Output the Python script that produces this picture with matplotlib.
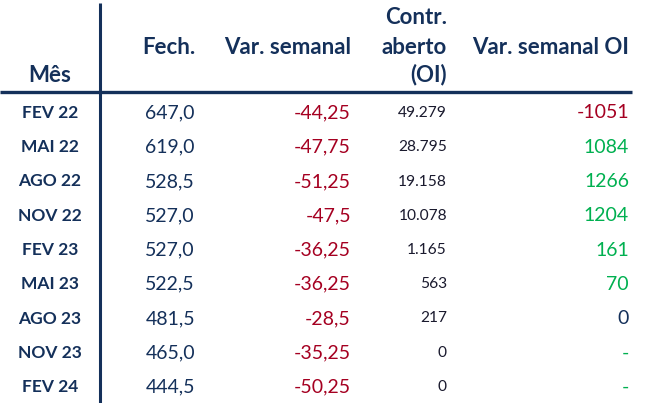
import matplotlib
matplotlib.use('Agg')
from matplotlib import pyplot as plt

meses = ['FEV 22', 'MAI 22', 'AGO 22', 'NOV 22', 'FEV 23', 'MAI 23', 'AGO 23', 'NOV 23', 'FEV 24']
fech = ['647,0', '619,0', '528,5', '527,0', '527,0', '522,5', '481,5', '465,0', '444,5']
var_semanal = ['-44,25', '-47,75', '-51,25', '-47,5', '-36,25', '-36,25', '-28,5', '-35,25', '-50,25']
contr_aberto = ['49.279', '28.795', '19.158', '10.078', '1.165', '563', '217', '0', '0']
var_oi = ['-1051', '1084', '1266', '1204', '161', '70', '0', '-', '-']

navy = '#14305A'
red = '#A50021'
green = '#00B050'

plt.rcParams['font.family'] = ['Lato', 'DejaVu Sans']

fig = plt.figure(figsize=(6.47, 4.03), dpi=100)
ax = fig.add_axes([0, 0, 1, 1])
ax.set_xlim(0, 647)
ax.set_ylim(403, 0)
ax.axis('off')

# linhas da tabela
ax.plot([100, 100], [3, 403], color=navy, lw=2.2, solid_capstyle='butt')
ax.plot([0, 632], [92, 92], color=navy, lw=2.4, solid_capstyle='butt')

# cabecalho
hkw = dict(color=navy, fontsize=16, fontweight='bold', va='center')
ax.text(50, 76, 'Mês', ha='center', **hkw)
ax.text(195, 47, 'Fech.', ha='right', **hkw)
ax.text(351, 47, 'Var. semanal', ha='right', **hkw)
ax.text(447, 18, 'Contr.', ha='right', **hkw)
ax.text(447, 47, 'aberto', ha='right', **hkw)
ax.text(447, 75, '(OI)', ha='right', **hkw)
ax.text(629, 47, 'Var. semanal OI', ha='right', **hkw)

y0, dy = 113, 34.25
for i, m in enumerate(meses):
    y = y0 + i * dy
    ax.text(50, y, m, ha='center', va='center', color=navy, fontsize=12.5, fontweight='bold')
    ax.text(195, y, fech[i], ha='right', va='center', color=navy, fontsize=14)
    ax.text(351, y, var_semanal[i], ha='right', va='center', color=red, fontsize=14)
    ax.text(447, y, contr_aberto[i], ha='right', va='center', color='#1a1a2e', fontsize=11.2)
    v = var_oi[i]
    if v.startswith('-') and len(v) > 1:
        c = red
    elif v == '0':
        c = navy
    else:
        c = green
    ax.text(629, y, v, ha='right', va='center', color=c, fontsize=14)

plt.savefig('out.png', dpi=100)
